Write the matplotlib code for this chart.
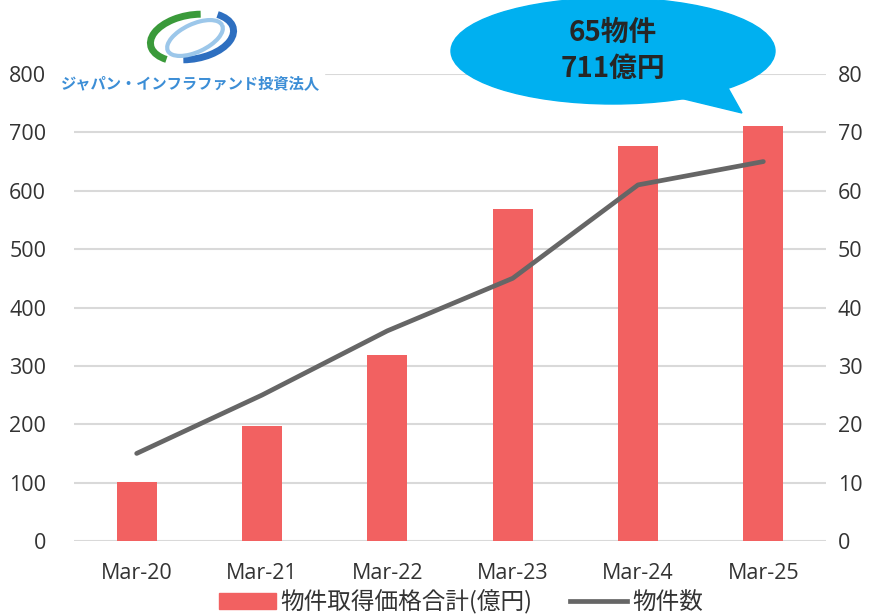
import numpy as np
import matplotlib
matplotlib.use('Agg')
from matplotlib import pyplot as plt
from matplotlib.patches import Ellipse, Polygon, Arc, Rectangle
from matplotlib.lines import Line2D
from matplotlib.patches import Patch

plt.rcParams['font.family'] = ['Noto Sans CJK JP', 'DejaVu Sans']

# data
periods = ['Mar-20', 'Mar-21', 'Mar-22', 'Mar-23', 'Mar-24', 'Mar-25']
price_total = [101, 197, 318, 569, 677, 711]   # 物件取得価格合計(億円)
asset_count = [15, 25, 36, 45, 61, 65]          # 物件数

bar_color = '#F26161'
line_color = '#666666'
grid_color = '#D9D9D9'
text_color = '#333333'

fig = plt.figure(figsize=(8.76, 6.14), dpi=100)
W, H = 876, 614
ax = fig.add_axes([74 / W, (H - 541) / H, (826 - 74) / W, (541 - 74) / H])
ax2 = ax.twinx()

x = np.arange(len(periods))
ax.bar(x, price_total, width=0.32, color=bar_color, zorder=2)
ax2.plot(x, asset_count, color=line_color, lw=3.4, solid_capstyle='round', zorder=3)

ax.set_xlim(-0.5, len(periods) - 0.5)
ax.set_ylim(0, 800)
ax2.set_ylim(0, 80)
ax.set_yticks(range(0, 801, 100))
ax2.set_yticks(range(0, 81, 10))
ax.set_xticks(x)
ax.set_xticklabels(periods)
ax.yaxis.grid(True, color=grid_color, lw=1.5, zorder=0)
ax.set_axisbelow(True)

for a in (ax, ax2):
    for s in a.spines.values():
        s.set_visible(False)
    a.tick_params(length=0, labelsize=15.5, colors=text_color)
    for lab in a.get_xticklabels() + a.get_yticklabels():
        lab.set_family(['Open Sans', 'DejaVu Sans'])
ax.tick_params(axis='y', pad=20)
ax2.tick_params(axis='y', pad=8.5)
ax.tick_params(axis='x', pad=16)

# overlay in pixel coordinates for logo and callout
ov = fig.add_axes([0, 0, 1, 1], zorder=5)
ov.set_xlim(0, W)
ov.set_ylim(H, 0)
ov.axis('off')

# logo (simplified)
ov.add_patch(Rectangle((58, 5), 266, 88, color='white'))
ov.add_patch(Arc((192, 38), 84, 46, angle=-10, theta1=150, theta2=300, color='#3A9A3A', lw=5))
ov.add_patch(Arc((192, 36), 84, 46, angle=-10, theta1=330, theta2=120, color='#2E6FC0', lw=5))
ov.add_patch(Arc((195, 38), 60, 28, angle=-25, theta1=0, theta2=360, color='#9CC7EA', lw=3))
ov.text(191, 83, 'ジャパン・インフラファンド投資法人', color='#3C8ED6', fontsize=11,
        fontweight='bold', ha='center', va='center')

# callout bubble
ov.add_patch(Ellipse((613, 51), 324, 106, color='#00B0F0'))
ov.add_patch(Polygon([(680, 98), (728, 88), (742, 113)], closed=True, color='#00B0F0'))
ov.text(613, 33, '65物件', ha='center', va='center', fontsize=20, fontweight='bold', color='#262626')
ov.text(613, 69, '711億円', ha='center', va='center', fontsize=20, fontweight='bold', color='#262626')

handles = [Patch(color=bar_color, label='物件取得価格合計(億円)'),
           Line2D([], [], color=line_color, lw=3.4, label='物件数')]
fig.legend(handles=handles, loc='center', bbox_to_anchor=(461 / W, 1 - 602 / H), ncol=2,
           frameon=False, fontsize=17, handlelength=2.4, handleheight=0.7,
           handletextpad=0.2, columnspacing=1.6, labelcolor=text_color)

fig.savefig('out.png', dpi=100)
